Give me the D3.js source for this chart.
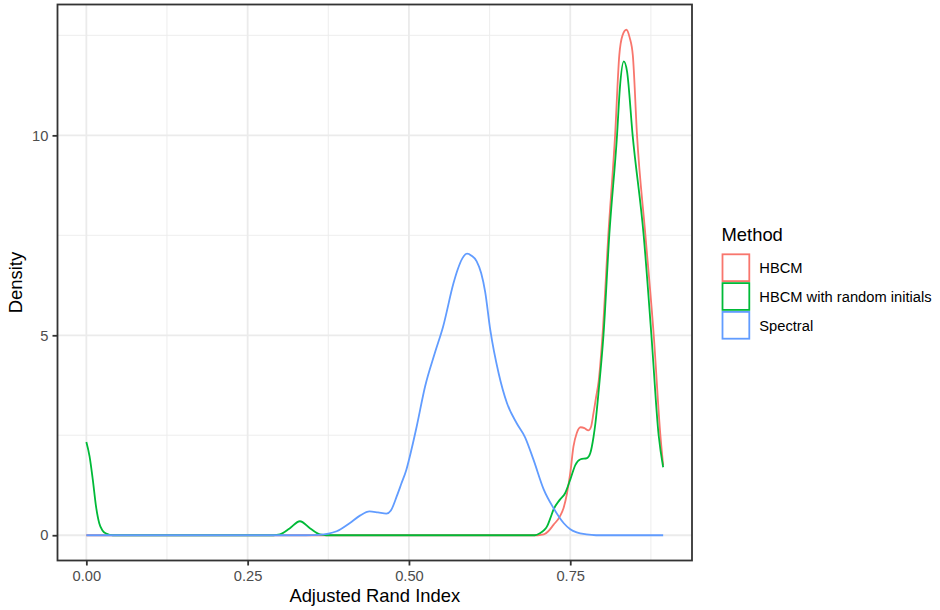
<!DOCTYPE html>
<html>
<head>
<meta charset="utf-8">
<script src="https://cdn.jsdelivr.net/npm/d3@7"></script>
<style>
  html, body { margin: 0; padding: 0; background: #ffffff; }
  svg { display: block; font-family: "Liberation Sans", Arial, Helvetica, sans-serif; }
</style>
</head>
<body>
<svg id="chart" width="940" height="610"></svg>
<script>
// ---------------- data ----------------
const methods = ["HBCM", "HBCM with random initials", "Spectral"];
const colors = ["#F8766D", "#00BA38", "#619CFF"];

const hbcmX = [0, 0.30, 0.70, 0.709, 0.716, 0.724, 0.734, 0.740, 0.745, 0.750, 0.755, 0.760, 0.766, 0.772, 0.778, 0.782, 0.786, 0.790, 0.794, 0.800, 0.809, 0.8195, 0.826, 0.831, 0.837, 0.842, 0.847, 0.8535, 0.8665, 0.8794, 0.8897, 0.894];
const hbcmY = [0, 0, 0, 0.02, 0.10, 0.26, 0.47, 0.70, 1.05, 1.55, 2.22, 2.55, 2.70, 2.68, 2.62, 2.70, 3.05, 3.45, 3.85, 5.0, 7.5, 10.0, 12.0, 12.5, 12.64, 12.45, 12.0, 10.0, 7.5, 5.0, 2.5, 1.75];

const randX = [0, 0.005, 0.010, 0.015, 0.020, 0.025, 0.031, 0.041, 0.29, 0.30, 0.315, 0.331, 0.347, 0.362, 0.372, 0.695, 0.703, 0.709, 0.714, 0.719, 0.724, 0.734, 0.742, 0.750, 0.758, 0.766, 0.776, 0.781, 0.786, 0.789, 0.794, 0.8015, 0.8105, 0.8225, 0.827, 0.833, 0.838, 0.8467, 0.8638, 0.8758, 0.887, 0.894];
const randY = [2.33, 1.97, 1.39, 0.72, 0.30, 0.12, 0.04, 0, 0, 0.02, 0.17, 0.35, 0.17, 0.02, 0, 0, 0.05, 0.12, 0.22, 0.42, 0.64, 0.89, 1.05, 1.39, 1.76, 1.90, 1.93, 2.05, 2.45, 2.8, 3.6, 5.0, 7.5, 10.0, 11.2, 11.85, 11.6, 10.0, 7.5, 5.0, 2.5, 1.70];

const specX = [0, 0.34, 0.36, 0.388, 0.408, 0.424, 0.439, 0.452, 0.465, 0.472, 0.481, 0.488, 0.496, 0.504, 0.512, 0.525, 0.540, 0.553, 0.569, 0.575, 0.583, 0.590, 0.597, 0.605, 0.612, 0.618, 0.626, 0.639, 0.652, 0.667, 0.680, 0.693, 0.709, 0.724, 0.740, 0.750, 0.760, 0.775, 0.79, 0.894];
const specY = [0, 0, 0.01, 0.10, 0.30, 0.49, 0.595, 0.57, 0.54, 0.62, 0.97, 1.28, 1.64, 2.15, 2.72, 3.72, 4.55, 5.22, 6.30, 6.62, 6.93, 7.04, 6.99, 6.85, 6.55, 6.10, 5.14, 4.05, 3.30, 2.80, 2.45, 1.89, 1.14, 0.68, 0.30, 0.15, 0.07, 0.02, 0, 0];

const xTicks = [0, 0.25, 0.5, 0.75];
const xTickLabels = ["0.00", "0.25", "0.50", "0.75"];
const xMinor = [0.125, 0.375, 0.625, 0.875];
const yTicks = [0, 5, 10];
const yTickLabels = ["0", "5", "10"];
const yMinor = [2.5, 7.5, 12.5];

// ---------------- layout ----------------
const svg = d3.select("#chart");
const panel = { left: 57.5, right: 692, top: 4.5, bottom: 560.5 };
const series = [
  { name: methods[0], color: colors[0], xs: hbcmX, ys: hbcmY },
  { name: methods[1], color: colors[1], xs: randX, ys: randY },
  { name: methods[2], color: colors[2], xs: specX, ys: specY }
];

const allX = [].concat(hbcmX, randX, specX);
const allY = [].concat(hbcmY, randY, specY);
const xMin = d3.min(allX), xMax = d3.max(allX);
const yMin = 0, yMax = d3.max(allY);
const xPad = (xMax - xMin) * 0.05, yPad = (yMax - yMin) * 0.05;

const x = d3.scaleLinear().domain([xMin - xPad, xMax + xPad]).range([panel.left, panel.right]);
const y = d3.scaleLinear().domain([yMin - yPad, yMax + yPad]).range([panel.bottom, panel.top]);

const gridColor = "#EBEBEB";
const gGrid = svg.append("g");
// minor grid
gGrid.selectAll("line.xmin").data(xMinor).join("line")
  .attr("x1", d => x(d)).attr("x2", d => x(d))
  .attr("y1", panel.top).attr("y2", panel.bottom)
  .attr("stroke", gridColor).attr("stroke-width", 0.9);
gGrid.selectAll("line.ymin").data(yMinor).join("line")
  .attr("x1", panel.left).attr("x2", panel.right)
  .attr("y1", d => y(d)).attr("y2", d => y(d))
  .attr("stroke", gridColor).attr("stroke-width", 0.9);
// major grid
gGrid.selectAll("line.xmaj").data(xTicks).join("line")
  .attr("x1", d => x(d)).attr("x2", d => x(d))
  .attr("y1", panel.top).attr("y2", panel.bottom)
  .attr("stroke", gridColor).attr("stroke-width", 1.8);
gGrid.selectAll("line.ymaj").data(yTicks).join("line")
  .attr("x1", panel.left).attr("x2", panel.right)
  .attr("y1", d => y(d)).attr("y2", d => y(d))
  .attr("stroke", gridColor).attr("stroke-width", 1.8);

// ---------------- lines ----------------
const line = d3.line()
  .x(d => x(d[0]))
  .y(d => y(d[1]))
  .curve(d3.curveMonotoneX);

svg.append("g").selectAll("path").data(series).join("path")
  .attr("d", s => line(s.xs.map((v, i) => [v, s.ys[i]])))
  .attr("fill", "none")
  .attr("stroke", s => s.color)
  .attr("stroke-width", 1.8)
  .attr("stroke-linejoin", "round");

// ---------------- panel border ----------------
svg.append("rect")
  .attr("x", panel.left).attr("y", panel.top)
  .attr("width", panel.right - panel.left).attr("height", panel.bottom - panel.top)
  .attr("fill", "none").attr("stroke", "#333333").attr("stroke-width", 1.8);

// ---------------- axes ----------------
const tickFont = 14.7;
const xAxis = d3.axisBottom(x).tickValues(xTicks)
  .tickFormat((d, i) => xTickLabels[i]).tickSize(5).tickPadding(5.1);
const gx = svg.append("g").attr("transform", `translate(0,${panel.bottom})`).call(xAxis);
gx.select(".domain").remove();
gx.selectAll(".tick line").attr("stroke", "#333333").attr("stroke-width", 1.8);
gx.selectAll(".tick text").attr("fill", "#4D4D4D").attr("font-size", tickFont)
  .attr("font-family", "Liberation Sans, Arial, sans-serif");

const yAxis = d3.axisLeft(y).tickValues(yTicks)
  .tickFormat((d, i) => yTickLabels[i]).tickSize(5).tickPadding(4.2);
const gy = svg.append("g").attr("transform", `translate(${panel.left},0)`).call(yAxis);
gy.select(".domain").remove();
gy.selectAll(".tick line").attr("stroke", "#333333").attr("stroke-width", 1.8);
gy.selectAll(".tick text").attr("fill", "#4D4D4D").attr("font-size", tickFont)
  .attr("font-family", "Liberation Sans, Arial, sans-serif");

// axis titles
const titleFont = 18.4;
svg.append("text")
  .attr("x", (panel.left + panel.right) / 2).attr("y", 601.5)
  .attr("text-anchor", "middle").attr("font-size", titleFont).attr("fill", "#000")
  .text("Adjusted Rand Index");
svg.append("text")
  .attr("transform", `translate(21.8,${(panel.top + panel.bottom) / 2}) rotate(-90)`)
  .attr("text-anchor", "middle").attr("font-size", titleFont).attr("fill", "#000")
  .text("Density");

// ---------------- legend ----------------
const leg = svg.append("g");
leg.append("text").attr("x", 721.5).attr("y", 240.7)
  .attr("font-size", titleFont).attr("fill", "#000").text("Method");
const keySize = 28.8, keyTop = 253.3, keyLeft = 721.5;
const items = leg.selectAll("g.item").data(series).join("g")
  .attr("transform", (d, i) => `translate(${keyLeft},${keyTop + i * keySize})`);
items.append("rect")
  .attr("x", 1).attr("y", 1)
  .attr("width", keySize - 2).attr("height", keySize - 2)
  .attr("fill", "#ffffff").attr("stroke", d => d.color).attr("stroke-width", 1.8);
items.append("text")
  .attr("x", 759.3 - keyLeft).attr("y", keySize / 2 + 5.3)
  .attr("font-size", tickFont).attr("fill", "#000")
  .text(d => d.name);
</script>
</body>
</html>
